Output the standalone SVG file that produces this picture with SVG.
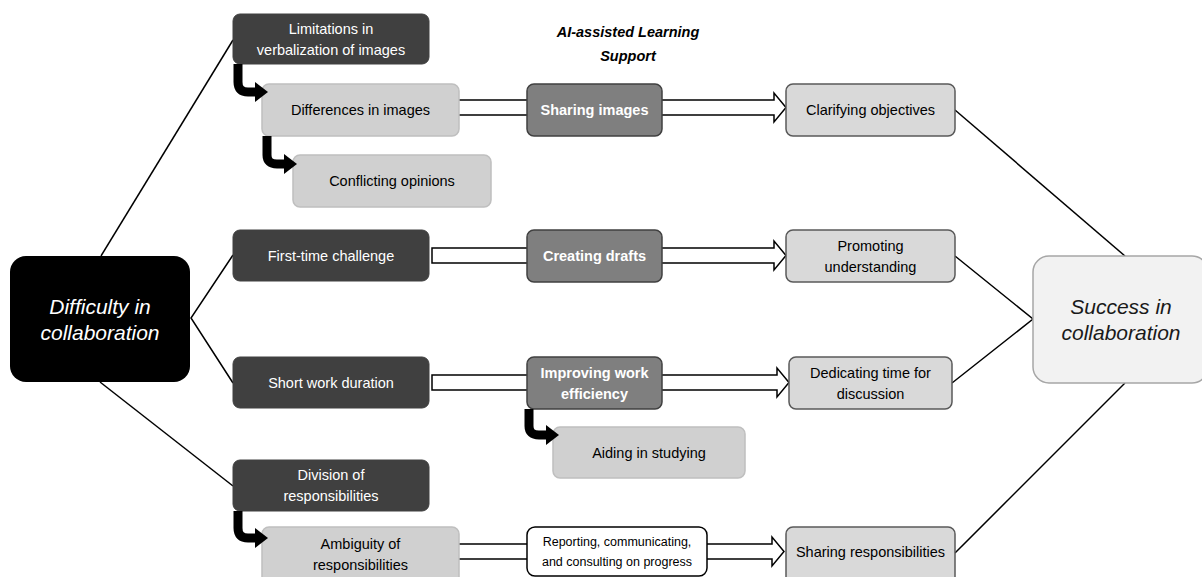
<svg xmlns="http://www.w3.org/2000/svg" width="1202" height="577" viewBox="0 0 1202 577">
<style>
text{font-family:"Liberation Sans",Arial,sans-serif;font-size:14.5px;text-anchor:middle}
.dark rect{fill:#404040;stroke:#404040;stroke-width:1}
.dark text{fill:#fff}
.light rect{fill:#d0d0d0;stroke:#bfbfbf;stroke-width:1.5}
.mid rect{fill:#7f7f7f;stroke:#404040;stroke-width:1.5}
.mid text{fill:#fff;font-weight:bold}
.res rect{fill:#d9d9d9;stroke:#595959;stroke-width:1.5}
.ln{stroke:#000;stroke-width:1.5;fill:none}
.blk{fill:#fff;stroke:#000;stroke-width:1.5;stroke-linejoin:miter}
.bent{stroke:#000;stroke-width:9;fill:none}
.head{fill:#000}
.big{font-size:21px;font-style:italic}
.ttl{font-weight:bold;font-style:italic;font-size:14.5px}
.small{font-size:12.5px}
</style>
<g id="connectors">
<line class="ln" x1="101" y1="256" x2="233" y2="40"/>
<polyline class="ln" points="233,255 191,318 233,383"/>
<line class="ln" x1="100" y1="382" x2="233" y2="486"/>
<line class="ln" x1="955" y1="110" x2="1125" y2="256"/>
<polyline class="ln" points="955,256 1033,319 952,383"/>
<line class="ln" x1="955" y1="553" x2="1125" y2="383"/>
<polygon class="blk" points="455,100 774,100 774,93 786,107.5 774,122 774,115 455,115"/>
<polygon class="blk" points="432,248 774,248 774,241 786,255.5 774,270 774,263 432,263"/>
<polygon class="blk" points="432,375 777,375 777,368 789,382.5 777,397 777,390 432,390"/>
<polygon class="blk" points="455,544 772,544 772,537 784,551.5 772,566 772,559 455,559"/>
</g>
<g id="difficulty">
<rect x="10" y="256" width="180" height="126" rx="16" fill="#000"/>
<text class="big" x="100" y="314" fill="#fff">Difficulty in</text>
<text class="big" x="100" y="340" fill="#fff">collaboration</text>
</g>
<g id="success">
<rect x="1033" y="256" width="175" height="127" rx="16" fill="#f2f2f2" stroke="#a6a6a6" stroke-width="1.5"/>
<text class="big" x="1121" y="314" fill="#1a1a1a">Success in</text>
<text class="big" x="1121" y="340" fill="#1a1a1a">collaboration</text>
</g>
<g id="title">
<text class="ttl" x="628" y="37">AI-assisted Learning</text>
<text class="ttl" x="628" y="61">Support</text>
</g>
<g id="limitations" class="dark">
<rect x="233" y="14" width="196" height="50" rx="7"/>
<text x="331" y="33.5">Limitations in</text>
<text x="331" y="55">verbalization of images</text>
</g>
<g id="differences" class="light">
<rect x="262" y="84" width="197" height="52" rx="7"/>
<text x="360.5" y="115">Differences in images</text>
</g>
<g id="conflicting" class="light">
<rect x="293" y="155" width="198" height="52" rx="7"/>
<text x="392" y="186">Conflicting opinions</text>
</g>
<g id="sharing-images" class="mid">
<rect x="527" y="84" width="135" height="52" rx="7"/>
<text x="594.5" y="115">Sharing images</text>
</g>
<g id="clarifying" class="res">
<rect x="786" y="84" width="169" height="52" rx="7"/>
<text x="870.5" y="115">Clarifying objectives</text>
</g>
<g id="first-time" class="dark">
<rect x="233" y="230" width="196" height="51" rx="7"/>
<text x="331" y="260.5">First-time challenge</text>
</g>
<g id="creating-drafts" class="mid">
<rect x="527" y="230" width="135" height="52" rx="7"/>
<text x="594.5" y="261">Creating drafts</text>
</g>
<g id="promoting" class="res">
<rect x="786" y="230" width="169" height="52" rx="7"/>
<text x="870.5" y="250.5">Promoting</text>
<text x="870.5" y="271.5">understanding</text>
</g>
<g id="short-work" class="dark">
<rect x="233" y="357" width="196" height="51" rx="7"/>
<text x="331" y="387.5">Short work duration</text>
</g>
<g id="improving" class="mid">
<rect x="527" y="357" width="135" height="52" rx="7"/>
<text x="594.5" y="377.5">Improving work</text>
<text x="594.5" y="398.5">efficiency</text>
</g>
<g id="dedicating" class="res">
<rect x="789" y="357" width="163" height="52" rx="7"/>
<text x="870.5" y="377.5">Dedicating time for</text>
<text x="870.5" y="398.5">discussion</text>
</g>
<g id="aiding" class="light">
<rect x="553" y="427" width="192" height="51" rx="7"/>
<text x="649" y="457.5">Aiding in studying</text>
</g>
<g id="division" class="dark">
<rect x="233" y="460" width="196" height="51" rx="7"/>
<text x="331" y="480">Division of</text>
<text x="331" y="501">responsibilities</text>
</g>
<g id="ambiguity" class="light">
<rect x="262" y="527" width="197" height="58" rx="7"/>
<text x="360.5" y="549">Ambiguity of</text>
<text x="360.5" y="570">responsibilities</text>
</g>
<g id="reporting">
<rect x="527" y="527" width="180" height="49" rx="8" fill="#fff" stroke="#000" stroke-width="1.5"/>
<text class="small" x="617" y="546">Reporting, communicating,</text>
<text class="small" x="617" y="566">and consulting on progress</text>
</g>
<g id="sharing-resp" class="res">
<rect x="786" y="527" width="169" height="58" rx="7"/>
<text x="870.5" y="557">Sharing responsibilities</text>
</g>
<g id="bent-arrows">
<path class="bent" d="M238,64 V82 Q238,92 248,92 H257"/>
<polygon class="head" points="255,82 268,92 255,102"/>
<path class="bent" d="M267,136 V155 Q267,164 277,164 H286"/>
<polygon class="head" points="284,154 297,164 284,174"/>
<path class="bent" d="M529,409 V426 Q529,435 539,435 H548"/>
<polygon class="head" points="546,425 559,435 546,445"/>
<path class="bent" d="M238,511 V528 Q238,538 248,538 H257"/>
<polygon class="head" points="255,528 268,538 255,548"/>
</g>
</svg>
